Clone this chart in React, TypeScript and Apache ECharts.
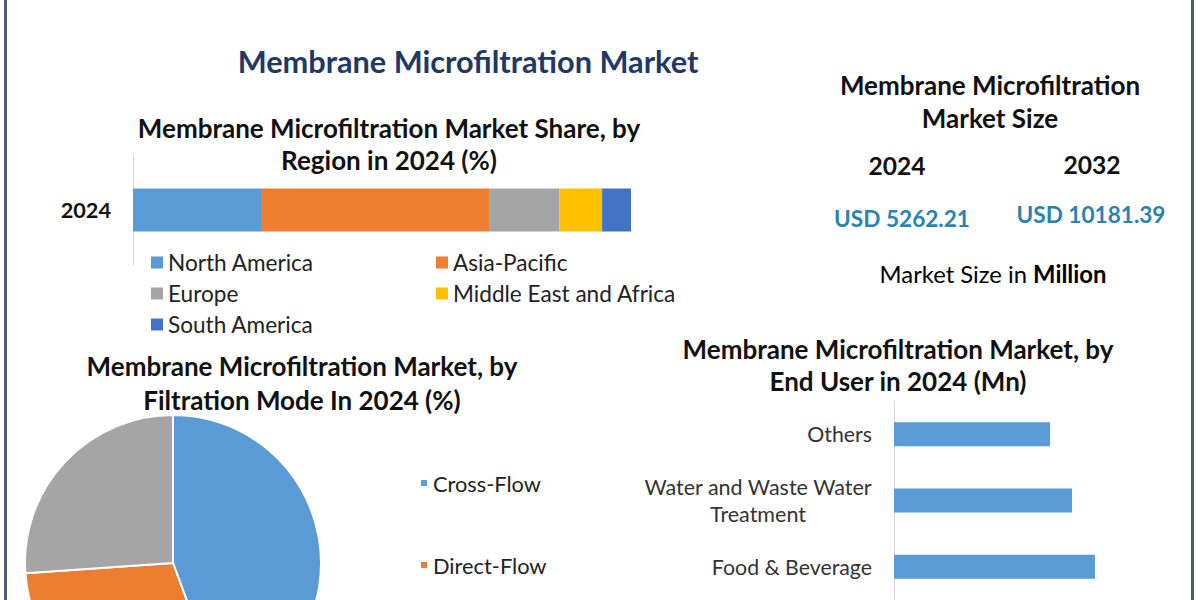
import React, { useEffect, useRef } from "react";
import * as echarts from "echarts";

// ---- data ----
const regionYear = ["2024"];
const regions = ["North America", "Asia-Pacific", "Europe", "Middle East and Africa", "South America"];
const regionShares = [25.7, 45.8, 14.1, 8.6, 5.8];
const regionColors = ["#5B9BD5", "#ED7D31", "#A5A5A5", "#FFC000", "#4472C4"];

const modes = ["Cross-Flow", "Direct-Flow", "Others"];
const modeShares = [44.4, 29.5, 26.1];
const modeColors = ["#5B9BD5", "#ED7D31", "#A5A5A5"];

const endUsers = ["Others", "Water and Waste Water Treatment", "Food & Beverage"];
const endUserValues = [1219, 1391, 1570];

const sizeYears = ["2024", "2032"];
const sizeValues = ["USD 5262.21", "USD 10181.39"];

const FONT = "Lato, 'Open Sans', sans-serif";

export default function App() {
  const ref = useRef<HTMLDivElement>(null);
  useEffect(() => {
    document.body.style.margin = "0";
    if (!ref.current) return;
    const chart = echarts.init(ref.current, undefined, { renderer: "svg" });

    const txt = (x: number, y: number, text: string, fontSize: number, fontWeight: string, fill: string, lineHeight?: number) => ({
      type: "text",
      x,
      y,
      style: {
        text,
        fontSize,
        fontWeight,
        fontFamily: FONT,
        fill,
        align: "center",
        verticalAlign: "middle",
        lineHeight: lineHeight || fontSize * 1.2,
      },
    });

    const legendText = { fontSize: 22.6, color: "#222", fontFamily: FONT, lineHeight: 22 };

    const option: any = {
      animation: false,
      backgroundColor: "#ffffff",
      textStyle: { fontFamily: FONT },
      grid: [
        { left: 133, top: 155, width: 498, height: 110 },
        { left: 894, top: 401, width: 256, height: 201 },
      ],
      xAxis: [
        { gridIndex: 0, type: "value", min: 0, max: 100, show: false },
        { gridIndex: 1, type: "value", min: 0, max: 2000, show: false },
      ],
      yAxis: [
        {
          gridIndex: 0,
          type: "category",
          data: regionYear,
          axisLine: { show: true, lineStyle: { color: "#d9d9d9", width: 1 } },
          axisTick: { show: false },
          axisLabel: { margin: 22, fontSize: 21.7, fontWeight: "bold", color: "#111", fontFamily: FONT },
        },
        {
          gridIndex: 1,
          type: "category",
          inverse: true,
          data: endUsers,
          axisLine: { show: true, lineStyle: { color: "#d9d9d9", width: 1 } },
          axisTick: { show: false },
          axisLabel: {
            margin: 22,
            fontSize: 21.3,
            color: "#333",
            fontFamily: FONT,
            formatter: (v: string) => {
              if (v === "Water and Waste Water Treatment") return "{c|Water and Waste Water}\n{c|Treatment}";
              return "{n|" + v + "}";
            },
            rich: {
              c: { width: 228, align: "center", fontSize: 21.5, color: "#333", fontFamily: FONT, lineHeight: 27 },
              n: { fontSize: 21.3, color: "#333", fontFamily: FONT },
            },
          },
        },
      ],
      legend: [
        {
          data: [regions[0], regions[2], regions[4]],
          orient: "vertical",
          left: 146,
          top: 246,
          itemWidth: 12,
          itemHeight: 12,
          itemGap: 8,
          icon: "rect",
          selectedMode: false,
          textStyle: legendText,
        },
        {
          data: [regions[1], regions[3]],
          orient: "vertical",
          left: 431,
          top: 246,
          itemWidth: 12,
          itemHeight: 12,
          itemGap: 8,
          icon: "rect",
          selectedMode: false,
          textStyle: legendText,
        },
        {
          data: [modes[0], modes[1]],
          orient: "vertical",
          left: 414,
          top: 467,
          itemWidth: 8,
          itemHeight: 8,
          itemGap: 60,
          icon: "rect",
          selectedMode: false,
          textStyle: { fontSize: 21.8, color: "#222", fontFamily: FONT, lineHeight: 22 },
        },
      ],
      series: [
        ...regions.map((name, i) => ({
          type: "bar",
          name,
          xAxisIndex: 0,
          yAxisIndex: 0,
          stack: "region",
          barWidth: 43,
          data: [regionShares[i]],
          itemStyle: { color: regionColors[i] },
        })),
        {
          type: "bar",
          name: "End User",
          xAxisIndex: 1,
          yAxisIndex: 1,
          barWidth: 24,
          data: endUserValues,
          itemStyle: { color: "#5B9BD5" },
        },
        {
          type: "pie",
          name: "Filtration Mode",
          center: [173, 563],
          radius: 148,
          startAngle: 90,
          clockwise: true,
          label: { show: false },
          labelLine: { show: false },
          itemStyle: { borderColor: "#ffffff", borderWidth: 2 },
          data: modes.map((name, i) => ({ name, value: modeShares[i], itemStyle: { color: modeColors[i] } })),
        },
      ],
      graphic: [
        { type: "rect", shape: { x: 4, y: 0, width: 3, height: 600 }, style: { fill: "#4B5D6E" } },
        { type: "rect", shape: { x: 1191, y: 0, width: 3, height: 600 }, style: { fill: "#4B5D6E" } },
        txt(468, 61, "Membrane Microfiltration Market", 30.7, "bold", "#1F3864"),
        txt(389, 144, "Membrane Microfiltration Market Share, by\nRegion in 2024 (%)", 26, "bold", "#111", 32),
        txt(302, 383, "Membrane Microfiltration Market, by\nFiltration Mode In 2024 (%)", 26, "bold", "#111", 34),
        txt(898, 365, "Membrane Microfiltration Market, by\nEnd User in 2024 (Mn)", 26, "bold", "#111", 32),
        txt(990, 101, "Membrane Microfiltration\nMarket Size", 26, "bold", "#111", 33),
        txt(897, 165, sizeYears[0], 24.6, "bold", "#111"),
        txt(1092, 164, sizeYears[1], 24.6, "bold", "#111"),
        txt(902, 218, sizeValues[0], 22.6, "bold", "#2A82B0"),
        txt(1091, 214, sizeValues[1], 22.6, "bold", "#2A82B0"),
        {
          type: "text",
          x: 993,
          y: 274,
          style: {
            text: "{n|Market Size in }{b|Million}",
            align: "center",
            verticalAlign: "middle",
            fontFamily: FONT,
            rich: {
              n: { fontSize: 23.8, color: "#222", fontFamily: FONT },
              b: { fontSize: 23.8, color: "#111", fontWeight: "bold", fontFamily: FONT },
            },
          },
        },
      ],
    };
    chart.setOption(option);
    return () => chart.dispose();
  }, []);
  return <div ref={ref} style={{ width: 1200, height: 600 }} />;
}
